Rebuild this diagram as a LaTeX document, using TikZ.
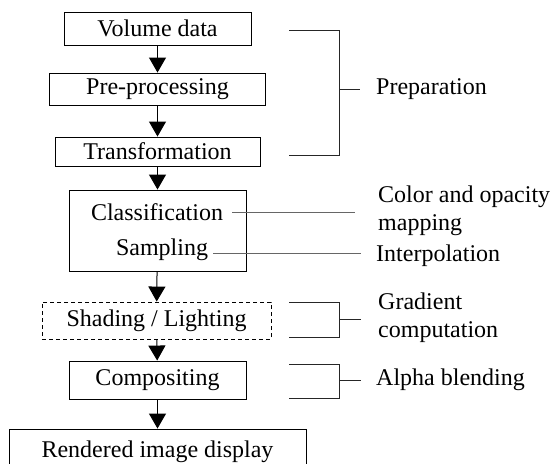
\documentclass[tikz,border=0pt]{standalone}
\usepackage{fontspec}
\setmainfont{Liberation Serif}
\usetikzlibrary{arrows.meta}

\tikzset{
  txt/.style={font=\fontsize{24}{28}\selectfont, inner sep=0pt},
  stepbox/.style={draw, line width=0.9pt, inner sep=0pt, txt},
  dashbox/.style={stepbox, dash pattern=on 4pt off 3pt},
  flow/.style={line width=1pt, -{Triangle[width=17pt,length=15pt]}},
  bracket/.style={draw=black!85, line width=0.9pt},
  leader/.style={draw=black!60, line width=1pt},
  note/.style={txt, anchor=west, align=left},
}

\begin{document}
\begin{tikzpicture}[x=1pt, y=-1pt]
  \useasboundingbox (0,0) rectangle (553,463);
  \clip (0,0) rectangle (553,463);

  % main pipeline
  \node[stepbox, minimum width=187pt, minimum height=33pt] (vol) at (157.5,28.5) {Volume data};
  \node[stepbox, minimum width=216pt, minimum height=32pt] (pre) at (157.5,89) {Pre-processing};
  \node[stepbox, minimum width=205pt, minimum height=29pt] (tra) at (157.5,151.5) {Transformation};
  \node[stepbox, minimum width=177pt, minimum height=81pt] (cls) at (157.5,230.5) {};
  \node[txt] (clst) at (157,212) {Classification};
  \node[txt] (smp) at (162,250) {Sampling};
  \node[dashbox, minimum width=229pt, minimum height=37pt] (shd) at (156.5,320.5) {Shading / Lighting};
  \node[stepbox, minimum width=177pt, minimum height=38pt] (cmp) at (157.5,380) {Compositing};
  \node[stepbox, minimum width=297pt, minimum height=46pt] (ren) at (157.5,452) {Rendered image display};

  \draw[flow] (vol) -- (pre);
  \draw[flow] (pre) -- (tra);
  \draw[flow] (tra) -- (cls);
  \draw[flow] (cls) -- (shd);
  \draw[flow] (shd) -- (cmp);
  \draw[flow] (cmp) -- (ren);

  % side notes
  \node[note] (prep) at (376,89) {Preparation};
  \node[note] (col) at (378,211) {Color and opacity\\mapping};
  \node[note] (interp) at (376,256) {Interpolation};
  \node[note] (grad) at (378,318) {Gradient\\computation};
  \node[note] (alpha) at (376,380) {Alpha blending};

  % preparation bracket
  \coordinate (p1) at (289,30);
  \coordinate (p2) at (339,30);
  \coordinate (p3) at (339,155);
  \coordinate (p4) at (289,155);
  \coordinate (pm) at (339,89);
  \draw[bracket] (p1) -- (p2) -- (p3) -- (p4);
  \draw[bracket, shorten >=16pt] (pm) -- (prep.west);

  % leaders from classification and sampling
  \coordinate (c2) at (355,212);
  \coordinate (s2) at (361,253);
  \draw[leader] ([xshift=9pt]clst.east) -- (c2);
  \draw[leader] ([xshift=5pt,yshift=-3pt]smp.east) -- (s2);

  % shading bracket
  \coordinate (g1) at (289,302);
  \coordinate (g2) at (339,302);
  \coordinate (g3) at (339,337);
  \coordinate (g4) at (289,337);
  \coordinate (gm) at (339,319);
  \coordinate (gt) at (361,319);
  \draw[bracket] (g1) -- (g2) -- (g3) -- (g4);
  \draw[bracket] (gm) -- (gt);

  % compositing bracket
  \coordinate (a1) at (289,364);
  \coordinate (a2) at (339,364);
  \coordinate (a3) at (339,398);
  \coordinate (a4) at (289,398);
  \coordinate (am) at (339,380);
  \draw[bracket] (a1) -- (a2) -- (a3) -- (a4);
  \draw[bracket, shorten >=15pt] (am) -- (alpha.west);
\end{tikzpicture}
\end{document}
